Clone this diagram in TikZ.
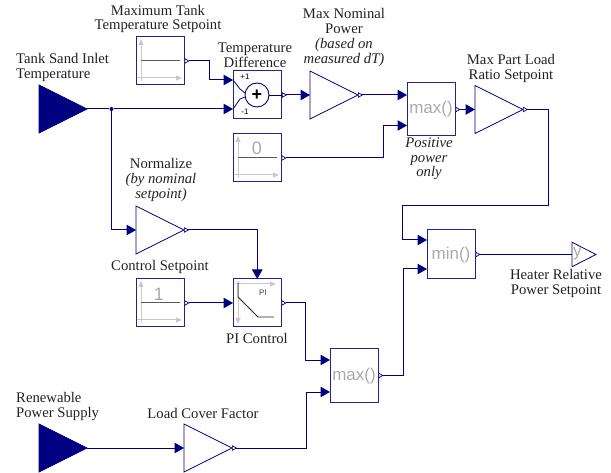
\documentclass[tikz,border=0pt]{standalone}
\usepackage{fontspec}
\setmainfont{Liberation Serif}
\setsansfont{Liberation Sans}
\usetikzlibrary{arrows.meta,shapes.geometric}
\definecolor{wirecol}{HTML}{000080}
\definecolor{framecol}{HTML}{23238E}
\definecolor{axiscol}{HTML}{C8C8C8}
\definecolor{funcol}{HTML}{AAAAAA}
\definecolor{txtcol}{HTML}{222222}
\tikzset{
  blockbox/.style={draw=framecol,line width=1pt,rectangle,anchor=north west,minimum width=48.5pt,minimum height=48pt,inner sep=0pt,outer sep=0pt},
  gainbox/.style={draw=wirecol,line width=.8pt,isosceles triangle,isosceles triangle stretches,anchor=lower side,minimum width=48pt,minimum height=48pt,inner sep=0pt,outer sep=0pt},
  inbox/.style={gainbox,fill=wirecol},
  wire/.style={draw=wirecol,line width=1pt,{Triangle[reversed,open,fill=white,length=5pt,width=5.5pt,line width=.7pt]}-{Triangle[length=9.5pt,width=10.5pt,fill=wirecol]}},
  plainwire/.style={draw=wirecol,line width=1pt},
  juncdot/.style={circle,fill=wirecol,minimum size=4pt,inner sep=0pt},
  lbl/.style={text=txtcol,align=center,inner sep=0pt,font=\fontsize{14.7}{14.7}\selectfont},
  lblleft/.style={lbl,align=left,anchor=west},
  funtxt/.style={text=funcol,inner sep=0pt,font=\sffamily\fontsize{17}{17}\selectfont},
  axisline/.style={draw=axiscol,line width=1pt,-{Triangle[length=6pt,width=5pt,fill=axiscol]}},
  graphline/.style={draw=black!65,line width=1pt},
}
\newcommand{\sourcegraph}[1]{%
\begin{scope}[shift={(#1.north west)}]
\draw[axisline] (5,44) -- (5,2);
\draw[axisline] (1,41) -- (46,41);
\draw[graphline] (5,24) -- (44,24);
\end{scope}}
\begin{document}
\begin{tikzpicture}[x=1pt,y=-1pt]
\useasboundingbox (0,0) rectangle (611,473);
\node[inbox] (tankin) at (39,109) {};
\node[inbox] (renewin) at (39,448) {};
\node[blockbox] (tankset) at (136,37) {};
\node[blockbox] (tempdiff) at (233,71) {};
\node[blockbox] (zeroset) at (233,134) {};
\node[blockbox] (ctrlset) at (136,279) {};
\node[blockbox] (picontrol) at (233,279) {};
\node[blockbox,minimum height=53pt] (maxpos) at (407,83) {};
\node[blockbox,minimum height=53pt] (maxcover) at (330,349) {};
\node[blockbox,minimum height=49pt] (minout) at (427,230) {};
\node[gainbox] (nomgain) at (310,95) {};
\node[gainbox] (partgain) at (475,109.5) {};
\node[gainbox] (normgain) at (136,230) {};
\node[gainbox] (covergain) at (184,448) {};
\node[gainbox,minimum width=24.5pt,minimum height=24pt] (outy) at (572,254.5) {};
\node[juncdot] (junc) at (111.5,109) {};
\node[circle,draw=wirecol,line width=.9pt,minimum size=24pt,inner sep=0pt,font=\sffamily\bfseries\fontsize{18}{18}\selectfont,fill=white] (sumcirc) at (257,95) {+};
\coordinate (sumA) at (233,80);
\coordinate (sumB) at (233,109);
\coordinate (maxposA) at (407,95);
\coordinate (maxposB) at (407,125.5);
\coordinate (minA) at (427,240);
\coordinate (minB) at (427,269);
\coordinate (coverA) at (330,360);
\coordinate (coverB) at (330,392);
\coordinate (diffout) at (282,95);

\sourcegraph{tankset}
\sourcegraph{zeroset}
\sourcegraph{ctrlset}
\node[funtxt,font=\sffamily\fontsize{18}{18}\selectfont] (zeroval) at (257,148) {0};
\node[funtxt,font=\sffamily\fontsize{18}{18}\selectfont] (oneval) at (159,294) {1};
\node[funtxt] (maxposfun) at (431,109) {max()};
\node[funtxt] (maxcoverfun) at (354,376) {max()};
\node[funtxt] (minfun) at (451,255) {min()};
\node[funtxt,anchor=west] (outyfun) at (573,254) {y};

\draw[plainwire,line width=.8pt] (sumA) -- (240,89) -- (sumcirc.170);
\draw[plainwire,line width=.8pt] (sumB) -- (240,99) -- (sumcirc.190);
\draw[plainwire,line width=.8pt] (sumcirc) ++(12,0) -- (diffout);
\node[text=black,inner sep=0pt,font=\sffamily\fontsize{8}{8}\selectfont] (plusone) at (245,77) {+1};
\node[text=black,inner sep=0pt,font=\sffamily\fontsize{8}{8}\selectfont] (minusone) at (245,112) {-1};

\begin{scope}[shift={(picontrol.north west)}]
\draw[axisline] (2,5) -- (43,5);
\draw[axisline] (5,2) -- (5,45);
\draw[draw=black!85,line width=.8pt] (5,4) -- (5,18) -- (25,38) -- (41,38);
\node[text=black!75,inner sep=0pt,font=\sffamily\fontsize{8}{8}\selectfont] (pitxt) at (30,14) {PI};
\end{scope}

\draw[plainwire] (tankin.apex) -- (junc);
\draw[wire,{}-{Triangle[length=9.5pt,width=10.5pt,fill=wirecol]}] (junc) -- (sumB);
\draw[wire,{}-{Triangle[length=9.5pt,width=10.5pt,fill=wirecol]}] (junc) |- (normgain.lower side);
\draw[wire] (tankset.east) -- (209,61) |- (sumA);
\draw[wire] (diffout) -- (nomgain.lower side);
\draw[wire] (nomgain.apex) -- (maxposA);
\draw[wire] (zeroset.east) -- (383,158) |- (maxposB);
\draw[wire] (maxpos.east) -- (partgain.lower side);
\draw[wire] (partgain.apex) -- (548,109.5) |- (402,206) |- (minA);
\draw[wire] (normgain.apex) -| (picontrol.north);
\draw[wire] (ctrlset.east) -- (picontrol.west);
\draw[wire] (picontrol.east) -- (305,303) |- (coverA);
\draw[wire,{}-{Triangle[length=9.5pt,width=10.5pt,fill=wirecol]}] (renewin.apex) -- (covergain.lower side);
\draw[wire] (covergain.apex) -- (306,448) |- (coverB);
\draw[wire] (maxcover.east) -- (403,375.5) |- (minB);
\draw[wire,{Triangle[reversed,open,fill=white,length=5pt,width=5.5pt,line width=.7pt]}-{}] (minout.east) -- (outy.lower side);

\node[lblleft] (tanklbl) at (16,67.5) {Tank Sand Inlet\\Temperature};
\node[lblleft] (renewlbl) at (16,406.5) {Renewable\\Power Supply};
\node[lbl] (tanksetlbl) at (158,19) {Maximum Tank\\Temperature Setpoint};
\node[lbl] (difflbl) at (255,55.5) {Temperature\\Difference};
\node[lbl] (nomlbl) at (344,37.5) {Max Nominal\\Power\\\textit{(based on}\\\textit{measured dT)}};
\node[lbl] (normlbl) at (161,180) {Normalize\\\textit{(by nominal}\\\textit{setpoint)}};
\node[lbl] (ctrllbl) at (160,267) {Control Setpoint};
\node[lbl] (pilbl) at (257,338.5) {PI Control};
\node[lbl] (poslbl) at (429,159) {\textit{Positive}\\\textit{power}\\\textit{only}};
\node[lbl] (partlbl) at (511,68.5) {Max Part Load\\Ratio Setpoint};
\node[lbl] (outlbl) at (556,283.5) {Heater Relative\\Power Setpoint};
\node[lbl] (coverlbl) at (203,413.5) {Load Cover Factor};
\end{tikzpicture}
\end{document}
